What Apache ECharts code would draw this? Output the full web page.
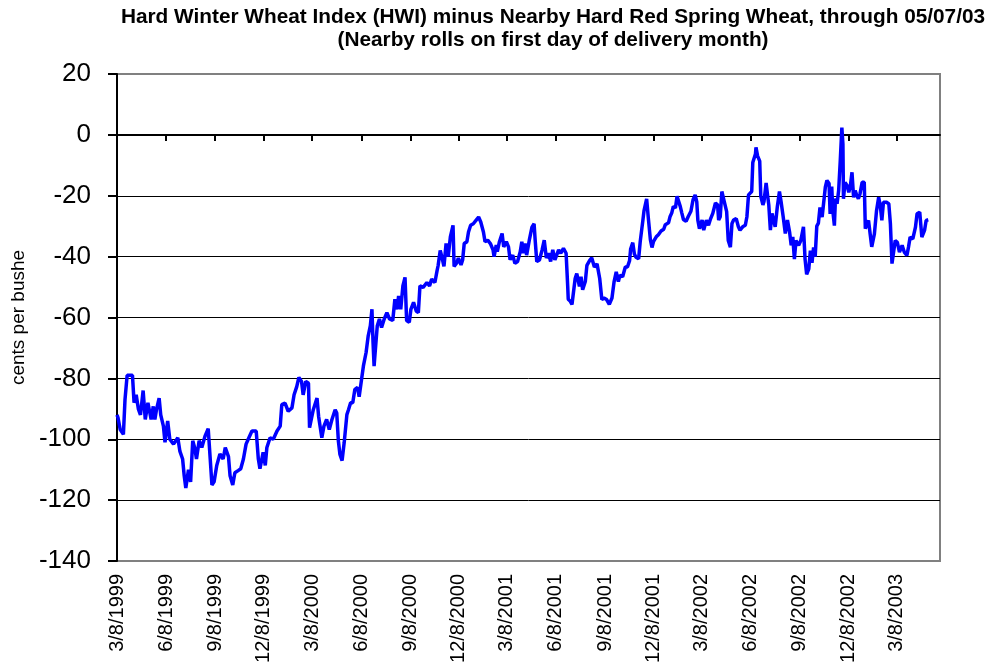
<!DOCTYPE html>
<html>
<head>
<meta charset="utf-8">
<title>HWI minus Nearby HRS Wheat</title>
<script src="https://cdn.jsdelivr.net/npm/echarts@6/dist/echarts.min.js"></script>
<style>
  html, body { margin: 0; padding: 0; background: #fff; }
  #chart { width: 990px; height: 671px; }
</style>
</head>
<body>
<div id="chart"></div>
<script>
// days after 3/8/1999 for each point
const dayOffsets = [0, 2, 6, 12, 15, 19, 29, 32, 36, 40, 44, 49, 53, 58, 64, 68, 71, 74, 79, 82, 87, 90, 95, 99, 106, 114, 118, 123, 126, 129, 134, 138, 142, 146, 149, 154, 159, 165, 171, 174, 178, 182, 187, 193, 199, 203, 209, 212, 217, 221, 227, 232, 237, 242, 246, 253, 256, 261, 265, 268, 274, 278, 281, 287, 293, 300, 306, 309, 315, 321, 328, 332, 337, 341, 346, 349, 354, 359, 361, 363, 368, 375, 378, 384, 388, 393, 398, 403, 409, 412, 415, 418, 422, 426, 431, 434, 438, 442, 446, 451, 454, 459, 462, 467, 471, 475, 478, 480, 482, 486, 488, 492, 496, 501, 506, 511, 517, 521, 525, 528, 532, 536, 540, 543, 548, 551, 556, 561, 565, 568, 574, 581, 586, 590, 596, 600, 602, 606, 609, 613, 617, 621, 625, 630, 632, 637, 640, 645, 648, 651, 656, 659, 663, 668, 673, 678, 682, 687, 690, 695, 700, 705, 707, 711, 713, 717, 722, 725, 730, 734, 737, 742, 746, 751, 756, 759, 762, 765, 768, 773, 778, 782, 784, 787, 792, 797, 801, 805, 809, 813, 817, 821, 828, 832, 837, 842, 845, 846, 850, 853, 859, 862, 867, 870, 873, 878, 881, 886, 890, 895, 900, 905, 909, 913, 918, 923, 928, 932, 936, 940, 943, 948, 953, 957, 961, 963, 967, 970, 973, 978, 981, 986, 988, 993, 996, 1000, 1003, 1006, 1011, 1015, 1020, 1025, 1028, 1031, 1034, 1037, 1040, 1043, 1047, 1050, 1053, 1056, 1059, 1062, 1067, 1071, 1076, 1080, 1084, 1087, 1089, 1092, 1097, 1100, 1105, 1109, 1113, 1117, 1122, 1126, 1128, 1131, 1134, 1137, 1140, 1143, 1146, 1150, 1153, 1156, 1161, 1165, 1168, 1173, 1178, 1181, 1184, 1187, 1190, 1192, 1197, 1198, 1201, 1205, 1207, 1211, 1213, 1217, 1220, 1222, 1225, 1228, 1231, 1234, 1238, 1242, 1245, 1249, 1253, 1257, 1261, 1264, 1267, 1270, 1273, 1278, 1282, 1287, 1290, 1293, 1297, 1300, 1303, 1306, 1309, 1312, 1315, 1318, 1322, 1326, 1328, 1331, 1335, 1337, 1340, 1342, 1345, 1347, 1350, 1353, 1356, 1359, 1361, 1362, 1365, 1369, 1372, 1375, 1378, 1381, 1384, 1387, 1390, 1393, 1397, 1401, 1403, 1406, 1409, 1412, 1415, 1420, 1424, 1428, 1431, 1434, 1437, 1442, 1447, 1450, 1453, 1456, 1459, 1463, 1467, 1472, 1476, 1481, 1484, 1487, 1492, 1497, 1500, 1505, 1509, 1514, 1517, 1521];

// HWI minus nearby HRS, cents per bushel
const spreadValues = [-92, -93, -96.8, -98.4, -87, -79, -79, -88, -85.4, -90, -92, -84, -93.5, -88, -93.5, -89.2, -93.5, -90.3, -86.5, -92, -95.7, -101, -94, -100, -101.6, -99.5, -104, -106.5, -112, -116, -110, -114, -100.5, -103, -106.5, -100.5, -102.7, -99, -96.5, -97, -115, -114, -108.6, -104.8, -106.5, -102.7, -105.7, -112, -115, -111, -110.3, -109.7, -106.5, -101.6, -100, -97.3, -97.8, -97.3, -106.5, -109.7, -104.3, -108.6, -102.7, -99.5, -100, -97.3, -95.7, -88.6, -88.1, -90.8, -89.7, -85.4, -82.7, -79.7, -81, -85.4, -81, -81.6, -96.2, -96.8, -90.3, -86.5, -92.5, -99.5, -95.7, -93.5, -96.8, -93.5, -90.3, -91.4, -100.5, -105, -107, -101, -91.9, -90.3, -88, -88, -83.6, -83, -86, -79.7, -75.9, -71.5, -66, -62.7, -57.3, -68, -76, -67, -62.7, -60.5, -63.3, -60.5, -58.4, -60.5, -61, -54, -57.3, -52.9, -57.3, -49.6, -46.8, -61, -61.6, -57.3, -55, -57.9, -58.4, -49.6, -50.1, -48.5, -49.6, -47.4, -48.5, -44.7, -43, -38, -40, -43.2, -35.7, -40, -33.5, -29.7, -43.2, -42.1, -40.5, -42.7, -41.1, -35.7, -35.1, -31.9, -29.7, -29.2, -28.1, -27, -28.6, -31.9, -35.1, -34.6, -35.7, -37.8, -40, -36.2, -38.4, -35.1, -32.4, -36.8, -35.1, -36.8, -41, -39.5, -42.2, -41.6, -38.4, -35.1, -38.9, -35.7, -39.5, -34.6, -30.3, -29.2, -34.6, -41.6, -41.1, -37.8, -34.6, -40.5, -38.9, -41.6, -37.8, -41.1, -37.8, -38.9, -37.3, -38.9, -49.7, -54, -54.7, -55.7, -47.2, -45.6, -49.8, -46.6, -50.9, -48.2, -42.9, -41.3, -40.4, -43.4, -42.4, -47.2, -54.1, -53.6, -54.1, -55.7, -53.6, -48.2, -45, -48.2, -46.1, -46.6, -43.4, -43.4, -41.3, -37.5, -35.4, -39.1, -40.2, -40.7, -35, -28, -25, -21, -27, -34.4, -37, -35, -33.5, -32.8, -31.6, -31, -29.5, -30, -28.9, -26.8, -25.7, -23.5, -24, -20.2, -20.2, -23.5, -25.7, -27.8, -28.4, -26.8, -25.1, -21.3, -19.7, -22, -28, -30.8, -28, -31.3, -28, -29.7, -27.5, -25.8, -22.4, -23, -28, -26.9, -18.6, -18, -23, -25.2, -34.7, -36.9, -29.1, -28, -27.5, -30.2, -31.3, -30.2, -29.7, -26.9, -19.7, -19.1, -18.6, -9.1, -6.3, -4.1, -6.9, -8.6, -20.2, -23, -21.9, -15.8, -20.2, -23, -31.3, -25.8, -28, -30.2, -23.6, -18.6, -21.9, -26.9, -32.4, -28, -31.9, -36.3, -33.5, -40.8, -34.7, -36.3, -34.7, -30.2, -40.8, -45.8, -44, -38, -42, -37, -40, -30, -29, -23.8, -27, -20.5, -17.2, -15, -16, -26, -17, -24.9, -29.8, -20.9, -22.6, -18.3, -8.5, 2.4, -3, -21, -15.6, -16.7, -18.9, -16.7, -12.3, -20.5, -18.3, -19.9, -21, -19.4, -15.6, -15.6, -30.8, -30.3, -28.1, -32.5, -36.8, -32.5, -24.9, -20.5, -23.2, -28.1, -22.1, -22.1, -22.6, -29.2, -42.3, -41.7, -34.7, -35.3, -38.5, -36.3, -38.5, -39.6, -36.8, -33.6, -34.2, -30.3, -25.9, -25.4, -33.6, -31.4, -28.1, -27.9];

// quarterly date ticks (days after 3/8/1999) and their labels
const tickDays = [0, 92, 184, 275, 366, 458, 550, 641, 731, 823, 915, 1006, 1096, 1188, 1280, 1371, 1461];
const tickLabels = ['3/8/1999', '6/8/1999', '9/8/1999', '12/8/1999', '3/8/2000', '6/8/2000', '9/8/2000', '12/8/2000', '3/8/2001', '6/8/2001', '9/8/2001', '12/8/2001', '3/8/2002', '6/8/2002', '9/8/2002', '12/8/2002', '3/8/2003'];

const font = 'Arial, "Liberation Sans", sans-serif';

let chart = echarts.init(document.getElementById('chart'), null, { renderer: 'canvas' });

let seriesData = [];
for (let i in dayOffsets) {
  seriesData.push([dayOffsets[i], spreadValues[i]]);
}

let option = {
  animation: false,
  backgroundColor: '#fff',
  title: {
    text: 'Hard Winter Wheat Index (HWI) minus Nearby Hard Red Spring Wheat, through 05/07/03\n(Nearby rolls on first day of delivery month)',
    left: 548,
    top: 1,
    textAlign: 'center',
    textStyle: {
      fontFamily: font,
      fontSize: 20.8,
      fontWeight: 'bold',
      color: '#000',
      lineHeight: 23
    }
  },
  grid: {
    left: 117,
    right: 50,
    top: 74,
    bottom: 110,
    show: true,
    borderColor: '#808080',
    borderWidth: 2
  },
  xAxis: [
    {
      // axis line crossing at zero, with tick marks only
      type: 'value',
      min: 0,
      max: 1543,
      axisLine: { onZero: true, lineStyle: { color: '#000', width: 2 } },
      axisTick: { show: true, customValues: tickDays, length: 6, lineStyle: { color: '#000', width: 2 } },
      axisLabel: { show: false },
      splitLine: { show: false }
    },
    {
      // date labels along the bottom of the plot
      type: 'value',
      min: 0,
      max: 1543,
      position: 'bottom',
      axisLine: { show: false, onZero: false },
      axisTick: { show: false },
      axisLabel: {
        customValues: tickDays,
        formatter: function (v) {
          return tickLabels[tickDays.indexOf(v)];
        },
        rotate: 90,
        margin: 13,
        fontFamily: font,
        fontSize: 20,
        color: '#000'
      },
      splitLine: { show: false }
    }
  ],
  yAxis: {
    type: 'value',
    min: -140,
    max: 20,
    interval: 20,
    name: 'cents per bushe',
    nameLocation: 'middle',
    nameRotate: 90,
    nameGap: 88,
    nameTextStyle: { fontFamily: font, fontSize: 19, color: '#000' },
    axisLine: { show: true, lineStyle: { color: '#000', width: 2 } },
    axisTick: { show: true, length: 9, lineStyle: { color: '#000', width: 2 } },
    axisLabel: { fontFamily: font, fontSize: 26, color: '#000', margin: 26 },
    splitLine: { show: true, showMinLine: false, showMaxLine: false, lineStyle: { color: '#000', width: 1 } }
  },
  series: [
    {
      name: 'HWI - HRS',
      type: 'line',
      xAxisIndex: 0,
      data: seriesData,
      showSymbol: false,
      symbol: 'none',
      lineStyle: { color: '#0000ff', width: 3.5 }
    }
  ]
};

chart.setOption(option);
</script>
</body>
</html>
